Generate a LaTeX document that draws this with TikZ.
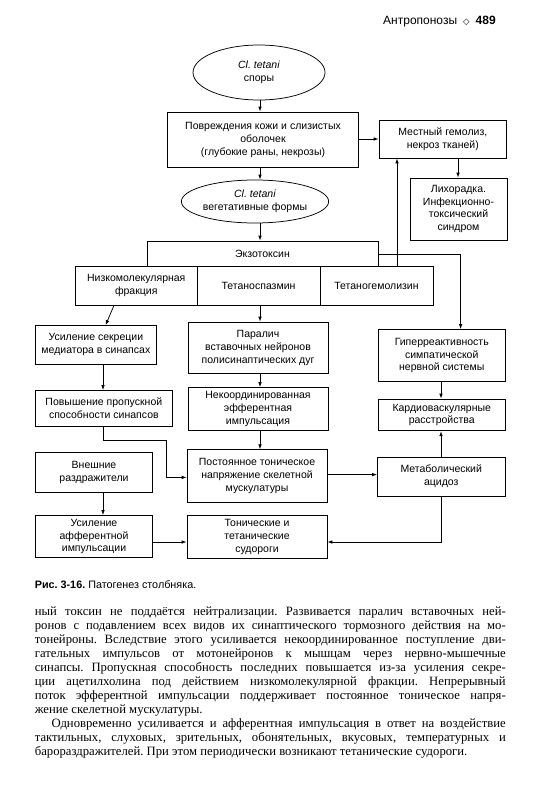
\documentclass[tikz,border=0pt]{standalone}
\usepackage{fontspec}
\setmainfont{Liberation Serif}
\setsansfont{Liberation Sans}
\newfontfamily\dejavu{DejaVu Sans}
\usetikzlibrary{arrows.meta,shapes.geometric}
\newcommand{\diagfont}{\sffamily\fontsize{10.5}{12.8}\selectfont}
\newcommand{\bodyfont}{\rmfamily\fontsize{12.7}{13.9}\selectfont}
\newcommand{\jline}[1]{\makebox[471pt][s]{#1}}
\frenchspacing
\begin{document}
\begin{tikzpicture}[x=1pt,y=-1pt,
  box/.style={draw, rectangle, align=center, inner sep=1pt, line width=0.75pt, font=\diagfont},
  oval/.style={draw, ellipse, align=center, inner sep=0pt, line width=0.75pt, font=\diagfont},
  arr/.style={line width=0.75pt, -{Latex[length=5pt,width=3.6pt]}},
  txt/.style={anchor=west, inner sep=0pt, font=\bodyfont}]
\fill[white] (0,0) rectangle (543,800);
\useasboundingbox (0,0) rectangle (543,800);

% helper coordinates
\coordinate (x260) at (260,0);
\coordinate (x397) at (397,0);
\coordinate (x458) at (458,0);
\coordinate (x103) at (103,0);
\coordinate (x441) at (441,0);
\coordinate (x461) at (460.6,0);
\coordinate (x114) at (114,0);
\coordinate (x106) at (105.6,0);
\coordinate (y139) at (0,139);
\coordinate (y255) at (0,254.6);
\coordinate (y475) at (0,474.6);
\coordinate (y542) at (0,542);
\coordinate (b1) at (166,440);
\coordinate (b2) at (166,477.4);

% header
\node[anchor=west, inner sep=0pt, font=\sffamily\fontsize{12}{14}\selectfont] (hdr) at (383,21.5)
  {Антропонозы\hspace{6pt}{\dejavu\fontsize{8.5}{10}\selectfont ◇}\hspace{6pt}\textbf{489}};

% nodes
\node[oval, minimum width=132pt, minimum height=55pt] (e1) at (259,72.5) {\textit{Cl. tetani}\\споры};
\node[box, minimum width=190.5pt, minimum height=55.5pt] (pov) at (263,139.75) {Повреждения кожи и слизистых\\оболочек\\(глубокие раны, некрозы)};
\node[box, minimum width=127.6pt, minimum height=38pt] (mest) at (442.8,139) {Местный гемолиз,\\некроз тканей)};
\node[oval, minimum width=125pt, minimum height=43pt] (e2) at (255,201.5) {\textit{Cl. tetani}\\вегетативные формы};
\node[box, minimum width=97pt, minimum height=62pt] (lih) at (458.5,209) {Лихорадка.\\Инфекционно-\\токсический\\синдром};
\node[box, minimum width=231pt, minimum height=25pt] (ekzo) at (262.5,253.5) {Экзотоксин};
\node[box, minimum width=121.5pt, minimum height=39pt] (nizko) at (136.25,285.5) {Низкомолекулярная\\фракция};
\node[box, minimum width=123pt, minimum height=39pt] (tetsp) at (258.5,285.5) {Тетаноспазмин};
\node[box, minimum width=113pt, minimum height=39pt] (tetgem) at (376.5,285.5) {Тетаногемолизин};
\node[box, minimum width=120.3pt, minimum height=38.5pt] (usil) at (95.85,344.75) {Усиление секреции\\медиатора в синапсах};
\node[box, minimum width=140pt, minimum height=51.7pt] (paral) at (258,347.85) {Паралич\\вставочных нейронов\\полисинаптических дуг};
\node[box, minimum width=126.5pt, minimum height=52pt] (giper) at (441.75,355.5) {Гиперреактивность\\симпатической\\нервной системы};
\node[box, minimum width=136.3pt, minimum height=35.5pt] (povysh) at (103.85,408.25) {Повышение пропускной\\способности синапсов};
\node[box, minimum width=140pt, minimum height=43.3pt] (nekoord) at (258,409.15) {Некоординированная\\эфферентная\\импульсация};
\node[box, minimum width=126.5pt, minimum height=31.8pt] (kardio) at (441.75,414.9) {Кардиоваскулярные\\расстройства};
\node[box, minimum width=116.7pt, minimum height=39.5pt] (vnesh) at (94,472.25) {Внешние\\раздражители};
\node[box, minimum width=140pt, minimum height=52.3pt] (post) at (257,475.85) {Постоянное тоническое\\напряжение скелетной\\мускулатуры};
\node[box, minimum width=127.5pt, minimum height=39pt] (metab) at (441.25,476.5) {Метаболический\\ацидоз};
\node[box, minimum width=116.7pt, minimum height=42.2pt] (usaff) at (94,536.6) {Усиление\\афферентной\\импульсации};
\node[box, minimum width=140pt, minimum height=43.3pt] (tonich) at (257,537.15) {Тонические и\\тетанические\\судороги};

% connectors
\draw[arr] (e1.south -| x260) -- (pov.north -| x260);
\draw[arr] (pov.east |- y139) -- (mest.west |- y139);
\draw[arr] (pov.south -| x260) -- (e2.north -| x260);
\draw[arr] (mest.south -| x458) -- (lih.north -| x458);
\draw[arr] (e2.south -| x260) -- (ekzo.north -| x260);
\draw[arr] (tetgem.north -| x397) -- (mest.south -| x397);
\draw[arr] (ekzo.east |- y255) -| (giper.north -| x461);
\draw[arr] (nizko.south -| x114) -- (usil.north -| x106);
\draw[arr] (tetsp.south -| x260) -- (paral.north -| x260);
\draw[arr] (usil.south -| x103) -- (povysh.north -| x103);
\draw[arr] (paral.south -| x260) -- (nekoord.north -| x260);
\draw[arr] (nekoord.south -| x260) -- (post.north -| x260);
\draw[arr] (giper.south -| x441) -- (kardio.north -| x441);
\draw[arr] (metab.north -| x441) -- (kardio.south -| x441);
\draw[arr] (povysh.south -| x103) |- (b1) |- (post.west |- b2);
\draw[arr] (post.east |- y475) -- (metab.west |- y475);
\draw[arr] (vnesh.south -| x103) -- (usaff.north -| x103);
\draw[arr] (usaff.east |- y542) -- (tonich.west |- y542);
\draw[arr] (metab.south -| x441) |- (tonich.east |- y542);

% caption
\node[anchor=west, inner sep=0pt, font=\sffamily\fontsize{10.8}{12}\selectfont] (cap) at (34.6,584.5)
  {\textbf{Рис. 3-16.} Патогенез столбняка.};

% body text
\node[txt] (l1) at (34.6,612.6) {\jline{ный токсин не поддаётся нейтрализации. Развивается паралич вставочных ней-}};
\node[txt] (l2) at (34.6,626.8) {\jline{ронов с подавлением всех видов их синаптического тормозного действия на мо-}};
\node[txt] (l3) at (34.6,640.7) {\jline{тонейроны. Вследствие этого усиливается некоординированное поступление дви-}};
\node[txt] (l4) at (34.6,654.6) {\jline{гательных импульсов от мотонейронов к мышцам через нервно-мышечные}};
\node[txt] (l5) at (34.6,668.5) {\jline{синапсы. Пропускная способность последних повышается из-за усиления секре-}};
\node[txt] (l6) at (34.6,682.4) {\jline{ции ацетилхолина под действием низкомолекулярной фракции. Непрерывный}};
\node[txt] (l7) at (34.6,696.3) {\jline{поток эфферентной импульсации поддерживает постоянное тоническое напря-}};
\node[txt] (l8) at (34.6,710.2) {жение скелетной мускулатуры.};
\node[txt] (l9) at (51.3,724.1) {\makebox[454.3pt][s]{Одновременно усиливается и афферентная импульсация в ответ на воздействие}};
\node[txt] (l10) at (34.6,738.0) {\jline{тактильных, слуховых, зрительных, обонятельных, вкусовых, температурных и}};
\node[txt] (l11) at (34.6,751.9) {барораздражителей. При этом периодически возникают тетанические судороги.};
\end{tikzpicture}
\end{document}
